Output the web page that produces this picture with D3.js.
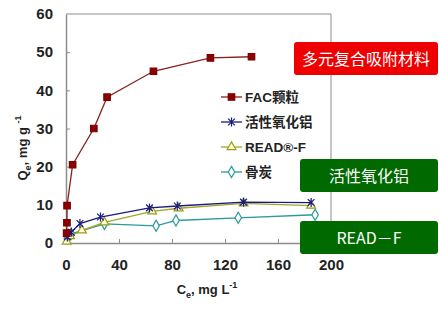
<!DOCTYPE html>
<html>
<head>
<meta charset="utf-8">
<script src="https://cdn.jsdelivr.net/npm/d3@7"></script>
<style>
  body { margin: 0; background: #fff; }
  svg text { font-family: "Liberation Sans Narrow", "Liberation Sans", Arial, sans-serif; }
</style>
</head>
<body>
<div id="chart"></div>
<script>
// data
var seriesNames = ["FAC颗粒", "活性氧化铝", "READ®-F", "骨炭"];
var facX = [0.5, 0.7, 0.8, 5, 21, 31, 66, 109, 140];
var facY = [2.6, 5.3, 9.8, 20.5, 30, 38.2, 45, 48.5, 48.8];
var aluX = [1, 4, 10.5, 26, 63, 84, 134, 185];
var aluY = [1.6, 2.8, 5.1, 6.8, 9.2, 9.7, 10.7, 10.6];
var readX = [0.5, 3, 12, 29, 65, 85, 134, 185];
var readY = [0.4, 1.8, 3.3, 5.4, 8.3, 9.1, 10.4, 9.8];
var boneX = [1, 4, 29, 68, 83, 130, 188];
var boneY = [1.3, 2.4, 5.0, 4.5, 5.9, 6.6, 7.4];
var xTicks = [0, 40, 80, 120, 160, 200];
var yTicks = [0, 10, 20, 30, 40, 50, 60];
var boxLabels = ["多元复合吸附材料", "活性氧化铝", "READ－F"];

var W = 439, H = 312;
var svg = d3.select("#chart").append("svg").attr("width", W).attr("height", H);

// plot area
var x = d3.scaleLinear().domain([0, 200]).range([66, 331]);
var y = d3.scaleLinear().domain([0, 60]).range([243, 14]);

// frame (top and right)
svg.append("path")
    .attr("d", "M" + x(0) + "," + y(60) + "H" + x(200) + "V" + y(0))
    .attr("fill", "none").attr("stroke", "#8c8c8c").attr("stroke-width", 1);

// axes
var xAxis = svg.append("g")
    .attr("transform", "translate(0," + y(0) + ")")
    .call(d3.axisBottom(x).tickValues(xTicks).tickSizeInner(-4).tickSizeOuter(0).tickPadding(16));
var yAxis = svg.append("g")
    .attr("transform", "translate(" + x(0) + ",0)")
    .call(d3.axisLeft(y).tickValues(yTicks).tickSizeInner(-4).tickSizeOuter(0).tickPadding(13));
[xAxis, yAxis].forEach(function (g) {
    g.select(".domain").attr("stroke", "#8c8c8c").attr("stroke-width", 1.5);
    g.selectAll(".tick line").attr("stroke", "#8c8c8c");
    g.selectAll(".tick text")
        .style("font-size", "15px").style("font-weight", "bold").attr("fill", "#222")
        .style("font-family", "'Liberation Sans Narrow', 'Liberation Sans', Arial, sans-serif");
});
xAxis.selectAll(".tick line").filter(function (d) { return d === 0 || d === 200; }).remove();
yAxis.selectAll(".tick line").filter(function (d) { return d === 0 || d === 60; }).remove();

// axis titles
var xt = svg.append("text").attr("x", 207).attr("y", 294).attr("text-anchor", "middle")
    .style("font-size", "13px").style("font-weight", "bold").attr("fill", "#222");
xt.append("tspan").text("C");
xt.append("tspan").attr("dy", 4).style("font-size", "9px").text("e");
xt.append("tspan").attr("dy", -4).text(", mg L");
xt.append("tspan").attr("dy", -6).style("font-size", "9px").text("-1");

var yt = svg.append("text").attr("transform", "translate(27,148) rotate(-90)").attr("text-anchor", "middle")
    .style("font-size", "13px").style("font-weight", "bold").attr("fill", "#222");
yt.append("tspan").text("Q");
yt.append("tspan").attr("dy", 4).style("font-size", "9px").text("e");
yt.append("tspan").attr("dy", -4).text(", mg g ");
yt.append("tspan").attr("dy", -6).style("font-size", "9px").text("-1");

// markers
function starPath(r) {
    var d = r * 0.75;
    return "M" + (-d) + "," + (-d) + "L" + d + "," + d + "M" + d + "," + (-d) + "L" + (-d) + "," + d +
        "M0," + (-r) + "L0," + r;
}
var series = [
    { name: seriesNames[0], xs: facX, ys: facY, line: "#8b2020", mark: "square", stroke: "#7a0000", fill: "#8b0000" },
    { name: seriesNames[1], xs: aluX, ys: aluY, line: "#1a1a80", mark: "star", stroke: "#1a1a80", fill: "none" },
    { name: seriesNames[2], xs: readX, ys: readY, line: "#a5a528", mark: "triangle", stroke: "#9a9a20", fill: "#ffffcc" },
    { name: seriesNames[3], xs: boneX, ys: boneY, line: "#2a9a9a", mark: "diamond", stroke: "#2a9a9a", fill: "#ffffff" }
];
function markPath(s) {
    if (s.mark === "square") return d3.symbol().type(d3.symbolSquare).size(42)();
    if (s.mark === "triangle") return d3.symbol().type(d3.symbolTriangle).size(34)();
    if (s.mark === "diamond") return d3.symbol().type(d3.symbolDiamond).size(36)();
    return starPath(4.5);
}

var line = d3.line().x(function (d) { return x(d[0]); }).y(function (d) { return y(d[1]); });

// draw in reverse order so FAC lies on top
series.slice().reverse().forEach(function (s) {
    var pts = s.xs.map(function (v, i) { return [v, s.ys[i]]; });
    svg.append("path").datum(pts).attr("d", line)
        .attr("fill", "none").attr("stroke", s.line).attr("stroke-width", 1.3);
    svg.selectAll(null).data(pts).enter().append("path")
        .attr("d", markPath(s))
        .attr("transform", function (d) { return "translate(" + x(d[0]) + "," + y(d[1]) + ")"; })
        .attr("fill", s.fill).attr("stroke", s.stroke).attr("stroke-width", 1.2);
});

// legend
var lg = svg.append("g").attr("transform", "translate(221,97)");
series.forEach(function (s, i) {
    var g = lg.append("g").attr("transform", "translate(0," + (i * 25) + ")");
    g.append("line").attr("x1", 0).attr("x2", 21).attr("y1", 0).attr("y2", 0)
        .attr("stroke", s.line).attr("stroke-width", 1.3);
    g.append("path").attr("d", markPath(s)).attr("transform", "translate(10.5,0)")
        .attr("fill", s.fill).attr("stroke", s.stroke).attr("stroke-width", 1.2);
    g.append("text").attr("x", 24).attr("y", 5).text(s.name)
        .style("font-size", "13.5px").style("font-weight", "bold").attr("fill", "#222")
        .style("font-family", "'Liberation Sans', Arial, 'Noto Sans CJK SC', sans-serif");
});

// annotation boxes
var boxes = [
    { x: 294, y: 42, w: 144, h: 33, fill: "#ee0000" },
    { x: 300, y: 159, w: 138, h: 33, fill: "#006a00" },
    { x: 300, y: 221, w: 138, h: 33, fill: "#006a00" }
];
boxes.forEach(function (b, i) {
    svg.append("rect").attr("x", b.x).attr("y", b.y).attr("width", b.w).attr("height", b.h)
        .attr("rx", 3).attr("fill", b.fill);
    svg.append("text").attr("x", b.x + b.w / 2).attr("y", b.y + b.h / 2 + 6)
        .attr("text-anchor", "middle").attr("fill", "#fff")
        .style("font-size", "16px")
        .style("font-family", "'Noto Sans CJK SC', sans-serif")
        .text(boxLabels[i]);
});
</script>
</body>
</html>
